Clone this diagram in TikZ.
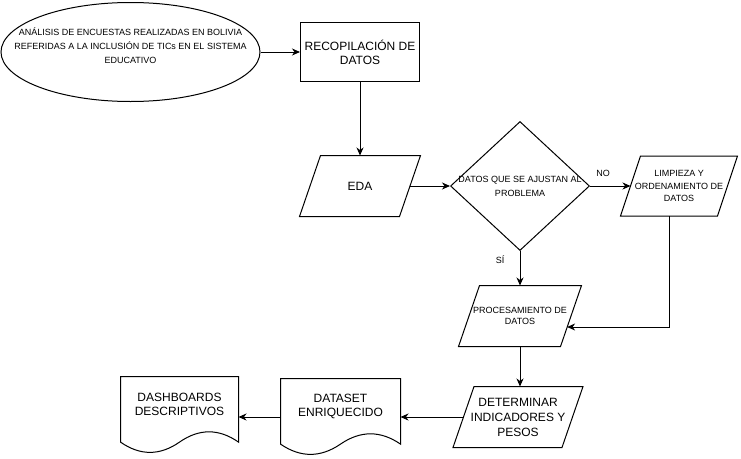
\documentclass[tikz,border=0pt]{standalone}
\usepackage{fontspec}
\setmainfont{Liberation Sans}
\usetikzlibrary{shapes.geometric,arrows.meta,calc}

% outline of a document symbol round an empty node
\newcommand{\docedge}[1]{%
  \draw (#1.north west) -- (#1.north east) -- ($(#1.south east)+(0,-11.4)$)
    .. controls ($(#1.south west)!5/6!(#1.south east)+(0,-25.1)$) and ($(#1.south west)!2/3!(#1.south east)+(0,-25.1)$) .. ($(#1.south)+(0,-11.4)$)
    .. controls ($(#1.south west)!1/3!(#1.south east)+(0,2.3)$) and ($(#1.south west)!1/6!(#1.south east)+(0,2.3)$) .. ($(#1.south west)+(0,-11.4)$)
    -- cycle;}
% slanted data box round a node, top edge moved right by #2
\newcommand{\ioedge}[2]{%
  \draw ($(#1.north west)+(#2,0)$) -- ($(#1.north east)+(#2,0)$)
    -- ($(#1.south east)+(-#2,0)$) -- ($(#1.south west)+(-#2,0)$) -- cycle;}

\begin{document}
\begin{tikzpicture}[x=1pt,y=-1pt,line width=1pt,
  big/.style={font=\fontsize{12}{14}\selectfont,align=center,inner sep=0.5pt},
  small/.style={font=\fontsize{9}{13}\selectfont,align=center,inner sep=0.5pt},
  box/.style={draw,rectangle,minimum width=119,minimum height=59},
  io/.style={rectangle,minimum height=60},
  doc/.style={rectangle,minimum height=76},
  arr/.style={-{Stealth[length=8pt,width=7pt,inset=2.5pt]}}]
  \useasboundingbox (0,0) rectangle (741,458);

  \node[draw,ellipse,minimum width=259,minimum height=99,
    label={[small,font=\fontsize{9}{14}\selectfont,yshift=6.5]center:{AN\'ALISIS DE ENCUESTAS REALIZADAS EN BOLIVIA\\REFERIDAS A LA INCLUSI\'ON DE TICs EN EL SISTEMA\\EDUCATIVO}}]
    (ell) at (130.5,52) {};
  \node[box,big] (rec) at (360,52) {RECOPILACI\'ON DE\\DATOS};
  \node[io,big,minimum width=99] (eda) at (360,186) {EDA};
  \node[draw,diamond,minimum width=139,minimum height=129,
    label={[small,font=\fontsize{9}{14}\selectfont]center:{DATOS QUE SE AJUSTAN AL\\PROBLEMA}}]
    (dec) at (520,186) {};
  \node[io,small,minimum width=96,minimum height=59,font=\fontsize{9}{12.5}\selectfont] (lim) at (679,186) {LIMPIEZA Y\\ORDENAMIENTO DE\\DATOS};
  \node[io,small,minimum width=101,font=\fontsize{9}{11}\selectfont] (proc) at (520,316) {PROCESAMIENTO DE\\DATOS};
  \node[io,big,minimum width=108,font=\fontsize{12}{15}\selectfont] (det) at (518,417) {DETERMINAR\\INDICADORES Y\\PESOS};
  \ioedge{eda}{10.5}
  \ioedge{lim}{10}
  \ioedge{proc}{10.5}
  \ioedge{det}{10.5}
  \node[doc,minimum width=119,label={[big,yshift=11]center:{DATASET\\ENRIQUECIDO}}] (ds) at (340.5,417) {};
  \node[doc,minimum width=117,label={[big,yshift=11]center:{DASHBOARDS\\DESCRIPTIVOS}}] (dash) at (179.5,415) {};
  \docedge{ds}
  \docedge{dash}

  \node[small] (no) at (603,173) {NO};
  \node[small] (si) at (500,260) {S\'I};

  \draw[arr] (ell) -- (rec);
  \draw[arr] (rec) -- (eda);
  \draw[arr] (eda) -- (dec);
  \draw[arr] (dec) -- (lim);
  \draw[arr] (dec) -- (proc);
  \draw[arr] ($(lim.south)+(-10,0)$) |- ($(proc.east)+(-3.9,11)$);
  \draw[arr] (proc) -- (proc |- det.north);
  \draw[arr] (det) -- (ds);
  \draw[arr] (ds) -- (ds -| dash.east);
\end{tikzpicture}
\end{document}
